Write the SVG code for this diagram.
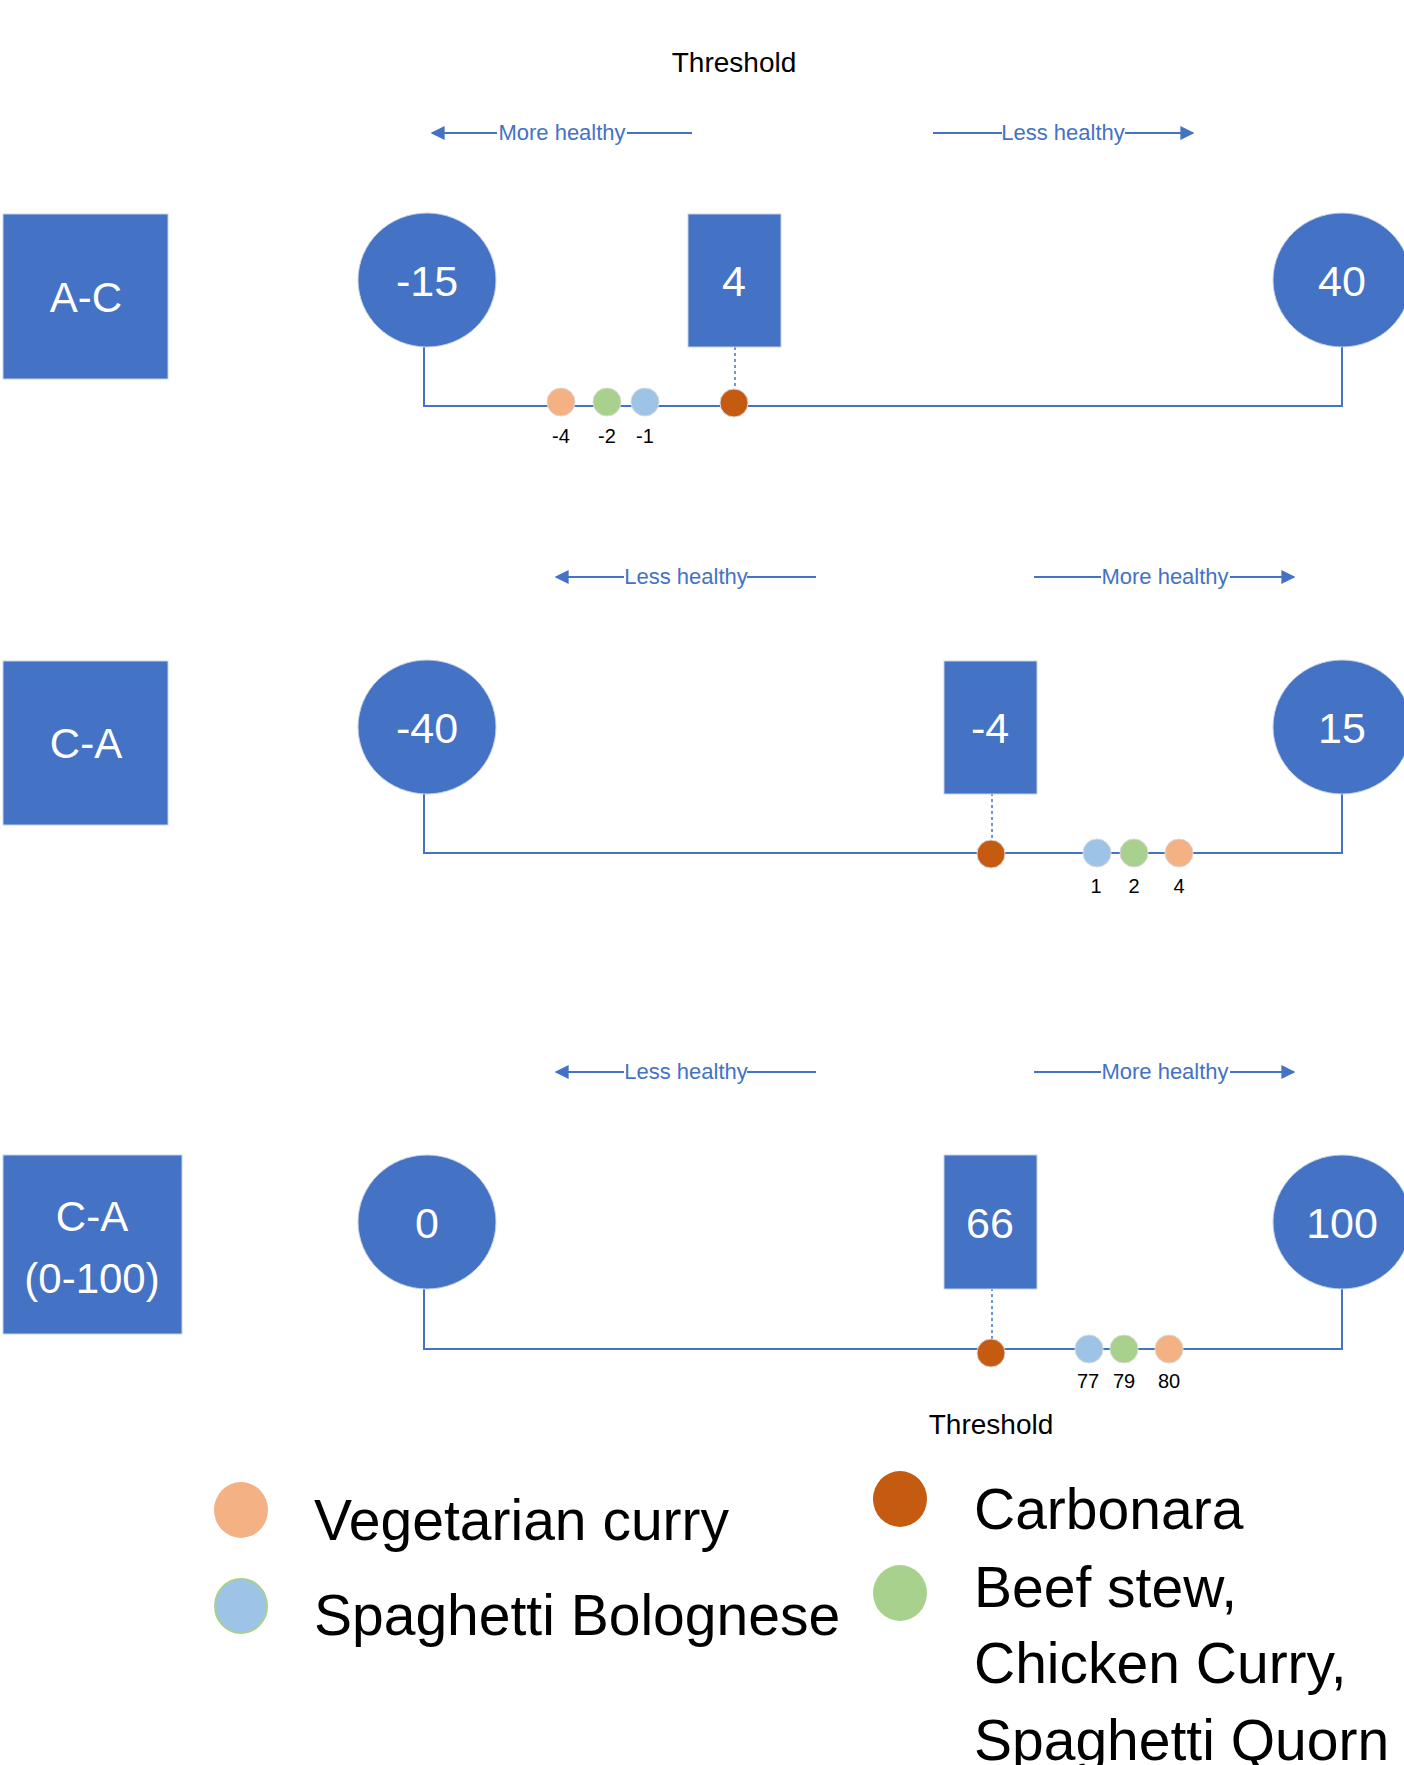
<svg xmlns="http://www.w3.org/2000/svg" width="1404" height="1765" viewBox="0 0 1404 1765">
<style>
.node{fill:#4472C4;stroke:#c8d2e4;stroke-width:1}
.nt{font-family:"Liberation Sans",Arial,sans-serif;font-size:43px;fill:#ffffff;text-anchor:middle}
.lt{font-family:"Liberation Sans",Arial,sans-serif;font-size:42px;fill:#ffffff;text-anchor:middle}
.ax{stroke:#4472C4;stroke-width:2;fill:none}
.dash{stroke:#4472C4;stroke-width:1.5;stroke-dasharray:3 3;fill:none}
.ar{stroke:#4472C4;stroke-width:2;fill:none}
.at{font-family:"Liberation Sans",Arial,sans-serif;font-size:22px;fill:#4472C4;text-anchor:middle}
.th{font-family:"Liberation Sans",Arial,sans-serif;font-size:28px;fill:#000;text-anchor:middle}
.vl{font-family:"Liberation Sans",Arial,sans-serif;font-size:20px;fill:#000;text-anchor:middle}
.lg{font-family:"Liberation Sans",Arial,sans-serif;font-size:57px;fill:#000}
.dot{stroke:#d9d9d9;stroke-width:1}
.veg{fill:#F4B183}.grn{fill:#A9D18E}.blu{fill:#9DC3E6}.car{fill:#C55A11}
</style>
<defs>
<marker id="ah" viewBox="0 0 10 10" refX="9" refY="5" markerWidth="7" markerHeight="7" orient="auto-start-reverse" markerUnits="strokeWidth">
<path d="M0,0 L10,5 L0,10 z" fill="#4472C4"/>
</marker>
</defs>

<g id="connectors">
<path class="ax" d="M424,347 V406 H1342 V347"/>
<path class="dash" d="M735,347 V389"/>
<path class="ax" d="M424,793 V853 H1342 V793"/>
<path class="dash" d="M992,793 V840"/>
<path class="ax" d="M424,1288 V1349 H1342 V1288"/>
<path class="dash" d="M992,1288 V1339"/>
<!-- direction arrows -->
<line class="ar" x1="497" y1="133" x2="432" y2="133" marker-end="url(#ah)"/>
<line class="ar" x1="627" y1="133" x2="692" y2="133"/>
<line class="ar" x1="933" y1="133" x2="1002" y2="133"/>
<line class="ar" x1="1125" y1="133" x2="1193" y2="133" marker-end="url(#ah)"/>
<line class="ar" x1="624" y1="577" x2="556" y2="577" marker-end="url(#ah)"/>
<line class="ar" x1="747" y1="577" x2="816" y2="577"/>
<line class="ar" x1="1034" y1="577" x2="1101" y2="577"/>
<line class="ar" x1="1230" y1="577" x2="1294" y2="577" marker-end="url(#ah)"/>
<line class="ar" x1="624" y1="1072" x2="556" y2="1072" marker-end="url(#ah)"/>
<line class="ar" x1="747" y1="1072" x2="816" y2="1072"/>
<line class="ar" x1="1034" y1="1072" x2="1101" y2="1072"/>
<line class="ar" x1="1230" y1="1072" x2="1294" y2="1072" marker-end="url(#ah)"/>
</g>

<g id="arrow-labels">
<text class="at" x="562" y="140">More healthy</text>
<text class="at" x="1063" y="140">Less healthy</text>
<text class="at" x="686" y="584">Less healthy</text>
<text class="at" x="1165" y="584">More healthy</text>
<text class="at" x="686" y="1079">Less healthy</text>
<text class="at" x="1165" y="1079">More healthy</text>
</g>

<text class="th" x="734" y="72">Threshold</text>
<text class="th" x="991" y="1434">Threshold</text>

<!-- Row 1 -->
<g id="row1-label"><rect class="node" x="3" y="214" width="165" height="165"/><text class="lt" x="86" y="312">A-C</text></g>
<g id="row1-min"><ellipse class="node" cx="427" cy="280" rx="69" ry="67"/><text class="nt" x="427" y="296">-15</text></g>
<g id="row1-threshold"><rect class="node" x="688" y="214" width="93" height="133"/><text class="nt" x="734" y="296">4</text></g>
<g id="row1-max"><ellipse class="node" cx="1342" cy="280" rx="69" ry="67"/><text class="nt" x="1342" y="296">40</text></g>
<g id="row1-dots">
<circle class="dot veg" cx="561" cy="402" r="14"/>
<circle class="dot grn" cx="607" cy="402" r="14"/>
<circle class="dot blu" cx="645" cy="402" r="14"/>
<circle class="dot car" cx="734" cy="403" r="14"/>
<text class="vl" x="561" y="443">-4</text>
<text class="vl" x="607" y="443">-2</text>
<text class="vl" x="645" y="443">-1</text>
</g>

<!-- Row 2 -->
<g id="row2-label"><rect class="node" x="3" y="661" width="165" height="164"/><text class="lt" x="86" y="758">C-A</text></g>
<g id="row2-min"><ellipse class="node" cx="427" cy="727" rx="69" ry="67"/><text class="nt" x="427" y="743">-40</text></g>
<g id="row2-threshold"><rect class="node" x="944" y="661" width="93" height="133"/><text class="nt" x="990" y="743">-4</text></g>
<g id="row2-max"><ellipse class="node" cx="1342" cy="727" rx="69" ry="67"/><text class="nt" x="1342" y="743">15</text></g>
<g id="row2-dots">
<circle class="dot car" cx="991" cy="854" r="14"/>
<circle class="dot blu" cx="1097" cy="853" r="14"/>
<circle class="dot grn" cx="1134" cy="853" r="14"/>
<circle class="dot veg" cx="1179" cy="853" r="14"/>
<text class="vl" x="1096" y="893">1</text>
<text class="vl" x="1134" y="893">2</text>
<text class="vl" x="1179" y="893">4</text>
</g>

<!-- Row 3 -->
<g id="row3-label"><rect class="node" x="3" y="1155" width="179" height="179"/><text class="lt" x="92" y="1231">C-A</text><text class="lt" x="92" y="1293">(0-100)</text></g>
<g id="row3-min"><ellipse class="node" cx="427" cy="1222" rx="69" ry="67"/><text class="nt" x="427" y="1238">0</text></g>
<g id="row3-threshold"><rect class="node" x="944" y="1155" width="93" height="134"/><text class="nt" x="990" y="1238">66</text></g>
<g id="row3-max"><ellipse class="node" cx="1342" cy="1222" rx="69" ry="67"/><text class="nt" x="1342" y="1238">100</text></g>
<g id="row3-dots">
<circle class="dot car" cx="991" cy="1353" r="14"/>
<circle class="dot blu" cx="1089" cy="1349" r="14"/>
<circle class="dot grn" cx="1124" cy="1349" r="14"/>
<circle class="dot veg" cx="1169" cy="1349" r="14"/>
<text class="vl" x="1088" y="1388">77</text>
<text class="vl" x="1124" y="1388">79</text>
<text class="vl" x="1169" y="1388">80</text>
</g>

<!-- Legend -->
<g id="legend-veg"><ellipse class="veg" cx="241" cy="1510" rx="27" ry="28"/><text class="lg" x="314" y="1540">Vegetarian curry</text></g>
<g id="legend-bol"><ellipse class="blu" cx="241" cy="1606" rx="26" ry="27" stroke="#A9D18E" stroke-width="2"/><text class="lg" x="314" y="1635">Spaghetti Bolognese</text></g>
<g id="legend-car"><ellipse class="car" cx="900" cy="1499" rx="27" ry="28"/><text class="lg" x="974" y="1529">Carbonara</text></g>
<g id="legend-grn"><ellipse class="grn" cx="900" cy="1593" rx="27" ry="28"/><text class="lg" x="974" y="1607">Beef stew,</text><text class="lg" x="974" y="1683">Chicken Curry,</text><text class="lg" x="974" y="1760">Spaghetti Quorn</text></g>
</svg>
